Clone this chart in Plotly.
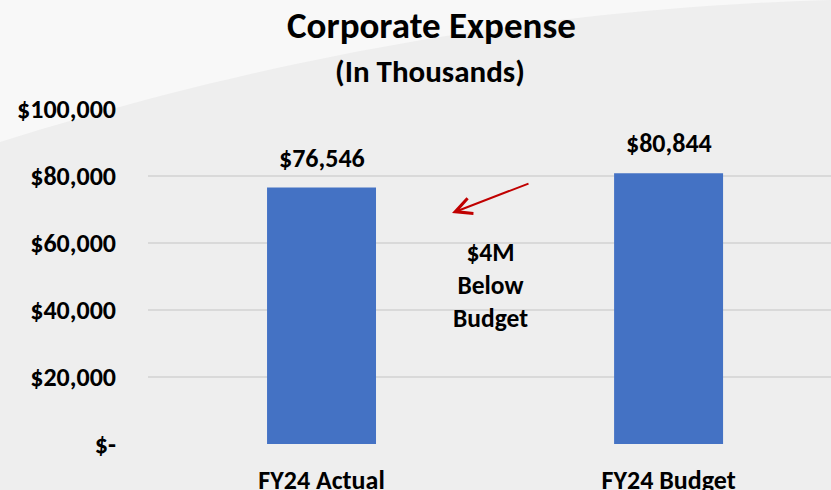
import plotly.graph_objects as go

categories = ["FY24 Actual", "FY24 Budget"]
values = [76546, 80844]
tick_vals = [0, 20000, 40000, 60000, 80000, 100000]
tick_text = ["$-", "$20,000", "$40,000", "$60,000", "$80,000", "$100,000"]
note_text = "$4M<br>Below<br>Budget"

W, H = 831, 490
L, R, T, B = 148, 0, 108, 46
FONT = "Carlito, Calibri, Lato, sans-serif"
BAR = "#4472C4"

def px(xp):
    return (xp - L) / (W - L - R)

def py(yp):
    return (H - B - yp) / (H - T - B)

fig = go.Figure()
fig.add_trace(go.Bar(x=categories, y=values, marker=dict(color=BAR, line=dict(width=0)),
                     width=0.314, hoverinfo="skip"))

# swoosh background highlight
pts = []
n = 40
for i in range(n + 1):
    t = i / n
    x = 2 * (1 - t) * t * 420 + t ** 2 * 835
    y = (1 - t) ** 2 * 142 + 2 * (1 - t) * t * 10
    pts.append((px(x), py(y)))
path = "M %f,%f " % (px(-5), py(-5)) + " ".join("L %f,%f" % p for p in pts) + " L %f,%f Z" % (px(840), py(-5))
fig.add_shape(type="path", path=path, xref="paper", yref="paper",
              fillcolor="#F8F8F8", line=dict(width=0), layer="below")

annotations = []
for c, v in zip(categories, values):
    annotations.append(dict(x=c, y=v, xref="x", yref="y", text="<b>${:,}</b>".format(v),
                            showarrow=False, yanchor="bottom", yshift=12,
                            font=dict(family=FONT, size=26, color="#000000")))
annotations.append(dict(x=px(490), y=py(285), xref="paper", yref="paper", text="<b>" + note_text + "</b>",
                        showarrow=False, xanchor="center", yanchor="middle",
                        font=dict(family=FONT, size=25.5, color="#000000")))
annotations.append(dict(x=px(452), y=py(213), xref="paper", yref="paper", ax=78, ay=-30,
                        text="", showarrow=True, arrowhead=5, arrowsize=1.6, arrowwidth=2,
                        arrowcolor="#C00000"))
annotations.append(dict(x=px(431), y=py(25), xref="paper", yref="paper", text="<b>Corporate Expense</b>",
                        showarrow=False, xanchor="center", yanchor="middle",
                        font=dict(family=FONT, size=37, color="#000000")))
annotations.append(dict(x=px(430), y=py(71), xref="paper", yref="paper", text="<b>(In Thousands)</b>",
                        showarrow=False, xanchor="center", yanchor="middle",
                        font=dict(family=FONT, size=31, color="#000000")))

fig.update_layout(
    width=W, height=H,
    margin=dict(l=L, r=R, t=T, b=B, pad=0, autoexpand=False),
    paper_bgcolor="#EEEEEE", plot_bgcolor="rgba(0,0,0,0)",
    showlegend=False,
    annotations=annotations,
    font=dict(family=FONT, color="#000000"),
    xaxis=dict(range=[-0.5, 1.468], showgrid=False, zeroline=False, showline=False,
               tickfont=dict(family=FONT, size=26, weight="bold", color="#000000"),
               ticks="", ticklabelstandoff=18, fixedrange=True, automargin=False),
    yaxis=dict(range=[0, 100300], tickvals=tick_vals, ticktext=tick_text,
               showgrid=True, gridcolor="#D9D9D9", gridwidth=1.5, zeroline=False,
               showline=False, ticks="", ticklabelstandoff=31, automargin=False,
               tickfont=dict(family=FONT, size=26, weight="bold", color="#000000"), fixedrange=True),
)
fig.write_html("out.html", config={"displayModeBar": False},
               post_script="document.body.style.margin='0';document.body.style.overflow='hidden';")
